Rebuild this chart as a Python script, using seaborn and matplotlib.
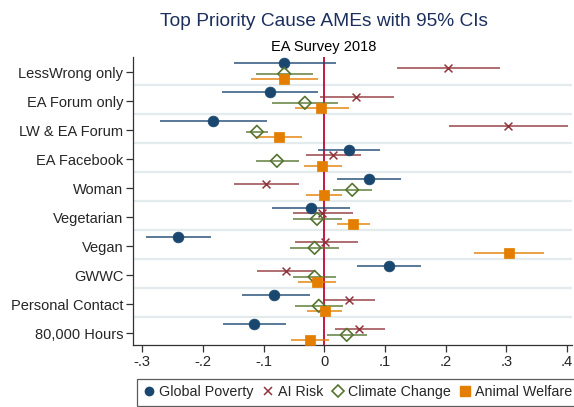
import matplotlib
matplotlib.use("Agg")
import matplotlib.pyplot as plt
from matplotlib.lines import Line2D
import seaborn as sns
import pandas as pd
import numpy as np

sns.set_theme(style="white")
plt.rcParams['font.family'] = ['Liberation Sans', 'DejaVu Sans']

categories = ["LessWrong only", "EA Forum only", "LW & EA Forum", "EA Facebook", "Woman",
              "Vegetarian", "Vegan", "GWWC", "Personal Contact", "80,000 Hours"]
series = ["Global Poverty", "AI Risk", "Climate Change", "Animal Welfare"]

gp_est = [-0.066, -0.090, -0.184, 0.040, 0.074, -0.022, -0.241, 0.106, -0.082, -0.116]
gp_lo  = [-0.148, -0.169, -0.271, -0.010, 0.021, -0.086, -0.294, 0.054, -0.136, -0.166]
gp_hi  = [0.020, -0.011, -0.095, 0.091, 0.127, 0.042, -0.186, 0.160, -0.024, -0.063]

ai_est = [0.204, 0.053, 0.302, 0.015, -0.096, -0.003, 0.002, -0.063, 0.040, 0.058]
ai_lo  = [0.120, -0.007, 0.205, -0.030, -0.148, -0.051, -0.049, -0.110, 0.000, 0.018]
ai_hi  = [0.290, 0.115, 0.402, 0.060, -0.041, 0.048, 0.055, -0.015, 0.083, 0.100]

cc_est = [-0.066, -0.032, -0.111, -0.078, 0.046, -0.012, -0.016, -0.016, -0.009, 0.037]
cc_lo  = [-0.112, -0.086, -0.129, -0.113, 0.015, -0.051, -0.056, -0.051, -0.048, 0.005]
cc_hi  = [-0.018, 0.023, -0.092, -0.042, 0.078, 0.029, 0.025, 0.020, 0.031, 0.071]

aw_est = [-0.067, -0.006, -0.075, -0.004, 0.000, 0.048, 0.304, -0.012, 0.001, -0.024]
aw_lo  = [-0.120, -0.049, -0.112, -0.034, -0.030, 0.021, 0.247, -0.043, -0.029, -0.054]
aw_hi  = [-0.010, 0.040, -0.037, 0.029, 0.030, 0.076, 0.362, 0.020, 0.030, 0.008]

x_ticks = [-0.3, -0.2, -0.1, 0, 0.1, 0.2, 0.3, 0.4]
x_tick_labels = ["-.3", "-.2", "-.1", "0", ".1", ".2", ".3", ".4"]

colors = {"Global Poverty": "#1a476f", "AI Risk": "#90353b",
          "Climate Change": "#55752f", "Animal Welfare": "#e37e00"}
offsets = {"Global Poverty": -0.33, "AI Risk": -0.14, "Climate Change": 0.06, "Animal Welfare": 0.25}

data = {"Global Poverty": (gp_est, gp_lo, gp_hi), "AI Risk": (ai_est, ai_lo, ai_hi),
        "Climate Change": (cc_est, cc_lo, cc_hi), "Animal Welfare": (aw_est, aw_lo, aw_hi)}

rows = []
for s in series:
    est, lo, hi = data[s]
    for i, c in enumerate(categories):
        rows.append({"series": s, "category": c, "pos": i + offsets[s],
                     "est": est[i], "lo": lo[i], "hi": hi[i]})
df = pd.DataFrame(rows)

fig = plt.figure(figsize=(5.74, 4.07), dpi=100)
ax = fig.add_axes([133/574, 1 - 345/407, (572 - 133)/574, (345 - 57)/407])

# grid lines between categories
for k in range(len(categories)):
    ax.axhline(k + 0.46, color="#e3ebed", lw=1.6, zorder=0)

ax.axvline(0, color="#c10534", lw=1.3, zorder=1)

for s in series:
    d = df[df.series == s]
    ax.hlines(d["pos"], d["lo"], d["hi"], color=colors[s], lw=1.2, alpha=0.85, zorder=2)

d = df[df.series == "Global Poverty"]
sns.scatterplot(data=d, x="est", y="pos", marker="o", s=60, color=colors["Global Poverty"],
                edgecolor=colors["Global Poverty"], linewidth=0.5, zorder=3, ax=ax)
d = df[df.series == "AI Risk"]
sns.scatterplot(data=d, x="est", y="pos", marker="x", s=32, color=colors["AI Risk"],
                linewidth=1.1, zorder=3, ax=ax)
d = df[df.series == "Climate Change"]
sns.scatterplot(data=d, x="est", y="pos", marker="D", s=42, facecolor="none",
                edgecolor=colors["Climate Change"], linewidth=1.2, zorder=3, ax=ax)
d = df[df.series == "Animal Welfare"]
sns.scatterplot(data=d, x="est", y="pos", marker="s", s=58, color=colors["Animal Welfare"],
                edgecolor=colors["Animal Welfare"], linewidth=0.5, zorder=3, ax=ax)

ax.set_xlim(-0.315, 0.408)
ax.set_ylim(9.41, -0.52)
ax.set_yticks(range(len(categories)))
ax.set_yticklabels(categories, fontsize=10.5)
ax.set_xticks(x_ticks)
ax.set_xticklabels(x_tick_labels, fontsize=10.5)
ax.set_xlabel("")
ax.set_ylabel("")
ax.tick_params(axis="both", which="both", length=5, width=0.9, color="#333333",
               left=True, bottom=True, pad=2)
for side in ["top", "right"]:
    ax.spines[side].set_visible(False)
for side in ["left", "bottom"]:
    ax.spines[side].set_color("#333333")
    ax.spines[side].set_linewidth(0.9)
if ax.get_legend():
    ax.get_legend().remove()

fig.text(324/574, 1 - 21/407, "Top Priority Cause AMEs with 95% CIs", ha="center", va="center",
         fontsize=13.8, color="#1c2f5c")
fig.text(324/574, 1 - 47/407, "EA Survey 2018", ha="center", va="center", fontsize=10.5, color="black")

handles = [
    Line2D([], [], marker="o", ls="", color=colors["Global Poverty"], markersize=6),
    Line2D([], [], marker="x", ls="", color=colors["AI Risk"], markersize=6, markeredgewidth=1.1),
    Line2D([], [], marker="D", ls="", markerfacecolor="none", markeredgecolor=colors["Climate Change"],
           markersize=6, markeredgewidth=1.2),
    Line2D([], [], marker="s", ls="", color=colors["Animal Welfare"], markersize=7),
]
leg = fig.legend(handles, series, loc="upper left", bbox_to_anchor=(137/574, 1 - 379/407),
                 ncol=4, fontsize=10.3, frameon=True, fancybox=False, handlelength=0.8,
                 handletextpad=0.3, columnspacing=0.6, borderpad=0.45, borderaxespad=0)
leg.get_frame().set_edgecolor("#333333")
leg.get_frame().set_linewidth(0.9)

fig.savefig("out.png", dpi=100)
